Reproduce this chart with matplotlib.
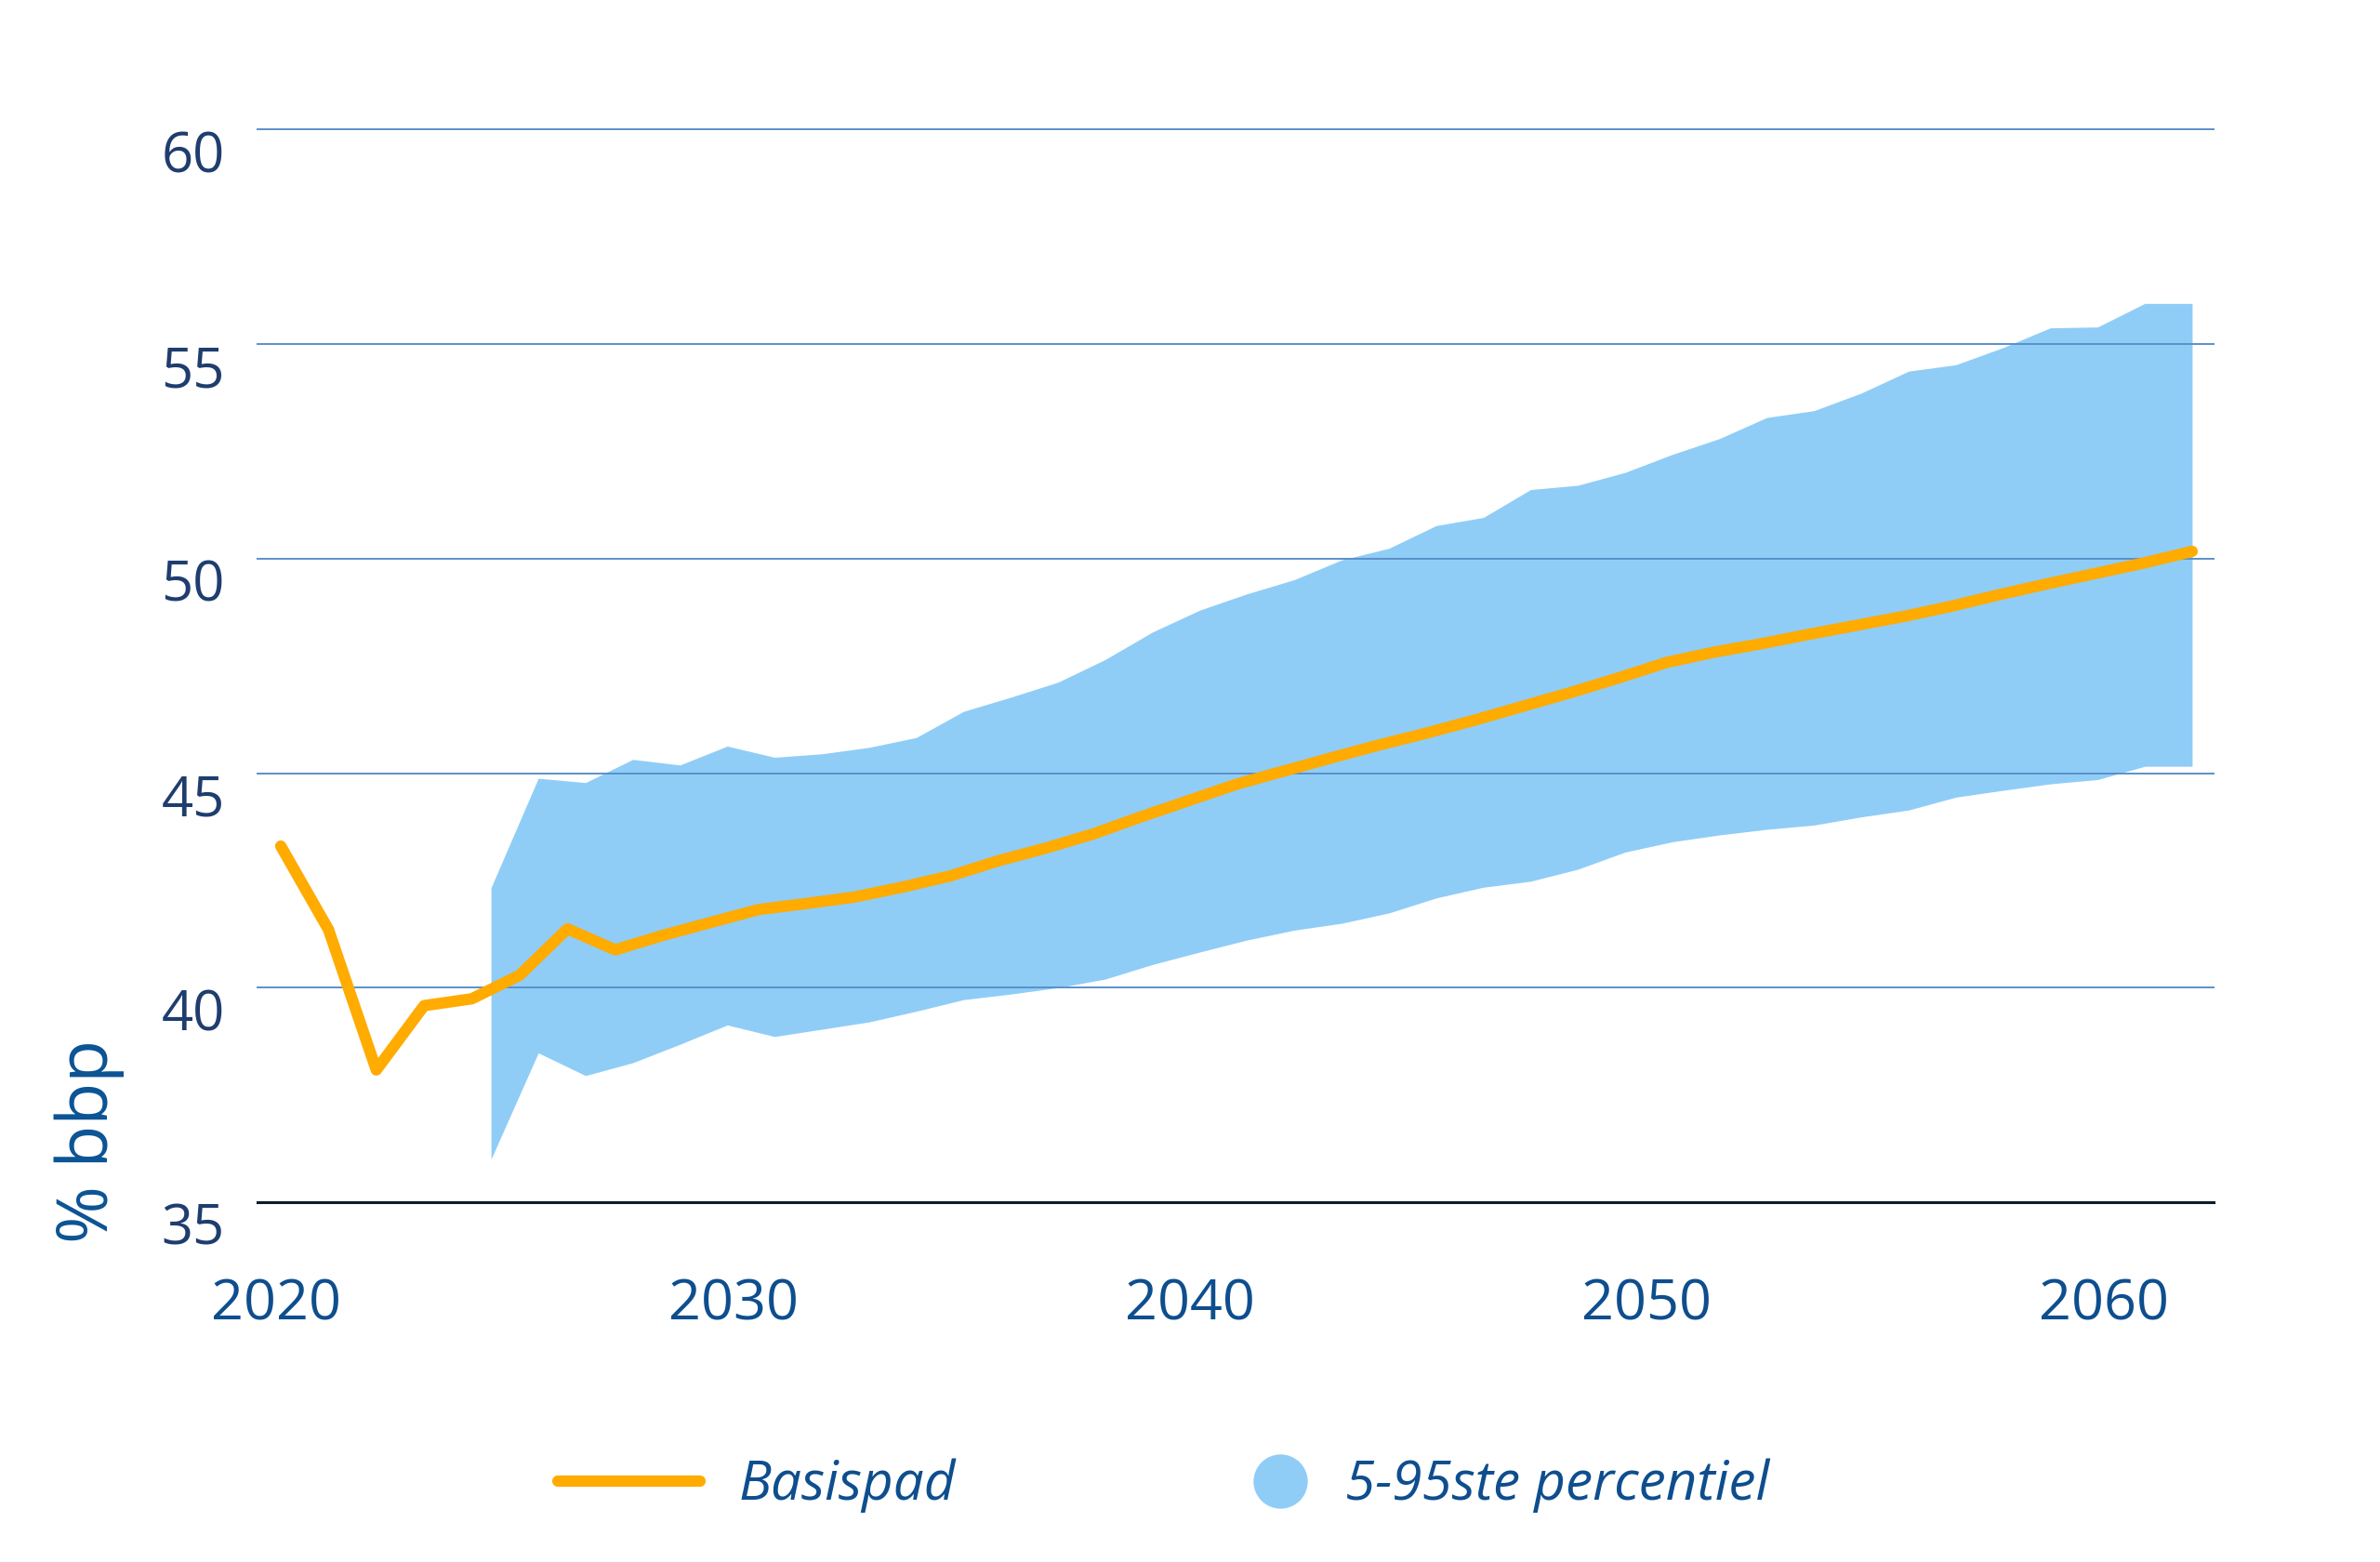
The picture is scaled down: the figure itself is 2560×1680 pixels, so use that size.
import numpy as np
import matplotlib.pyplot as plt
from matplotlib.lines import Line2D

plt.rcParams['font.family'] = ['Open Sans', 'DejaVu Sans']

# ---- data ----
years = np.arange(2020, 2061)
basispad = [43.30, 41.35, 38.08, 39.58, 39.74, 40.29, 41.37, 40.88, 41.22, 41.52,
            41.82, 41.96, 42.11, 42.34, 42.60, 42.95, 43.25, 43.58, 43.98, 44.36,
            44.74, 45.05, 45.36, 45.66, 45.94, 46.24, 46.56, 46.88, 47.22, 47.58,
            47.82, 48.02, 48.24, 48.45, 48.66, 48.90, 49.17, 49.42, 49.66, 49.90,
            50.17]

# 5-95 percentile band (runs on its own, slightly shifted grid in the source)
band_years = np.linspace(2024.4, 2060, 37)
band_hi = [42.33, 44.88, 44.78, 45.32, 45.19, 45.63, 45.37, 45.45, 45.60, 45.83,
           46.44, 46.77, 47.12, 47.65, 48.29, 48.80, 49.18, 49.51, 49.97, 50.24,
           50.77, 50.96, 51.61, 51.71, 52.01, 52.43, 52.80, 53.29, 53.45, 53.86,
           54.37, 54.52, 54.92, 55.38, 55.40, 55.95, 55.95]
band_lo = [36.00, 38.48, 37.95, 38.25, 38.68, 39.13, 38.86, 39.03, 39.20, 39.45,
           39.72, 39.85, 40.00, 40.20, 40.54, 40.83, 41.11, 41.34, 41.50, 41.74,
           42.09, 42.34, 42.48, 42.76, 43.16, 43.40, 43.56, 43.69, 43.79, 43.98,
           44.14, 44.44, 44.60, 44.75, 44.85, 45.16, 45.16]

y_ticks = [35, 40, 45, 50, 55, 60]
x_labels = ['2020', '2030', '2040', '2050', '2060']
# label positions as they sit in the source picture
x_label_pos = np.linspace(2019.91, 2058.15, 5)

orange = '#FFAB00'
lightblue = '#8FCDF7'
textblue = '#0E4E8E'
navy = '#1F3D6E'

fig = plt.figure(figsize=(12.8, 8.4), dpi=200)
ax = fig.add_axes([0.1082, 0.2304, 0.8219, 0.6866])

ax.fill_between(band_years, band_lo, band_hi, color=lightblue, lw=0, zorder=1)
ax.plot(years, basispad, color=orange, lw=4.4, solid_capstyle='round',
        solid_joinstyle='round', zorder=4)

ax.set_xlim(2019.514, 2060.45)
ax.set_ylim(35, 60)

ax.set_yticks(y_ticks)
ax.grid(axis='y', color='#5A90C8', lw=0.7, zorder=2)
ax.set_axisbelow(False)
for gl in ax.get_ygridlines():
    gl.set_clip_on(False)
    gl.set_zorder(2)
ax.grid(axis='x', visible=False)

for side in ['top', 'left', 'right']:
    ax.spines[side].set_visible(False)
ax.spines['bottom'].set_color('#0D1B2A')
ax.spines['bottom'].set_linewidth(1.1)
ax.spines['bottom'].set_zorder(3)

ax.tick_params(axis='y', length=0, pad=12.6, labelsize=21.5, labelcolor=navy)
for lbl in ax.get_yticklabels():
    lbl.set_verticalalignment('top')

ax.set_xticks(x_label_pos, x_labels)
ax.tick_params(axis='x', length=0, pad=29, labelsize=22, labelcolor=textblue)

fig.text(96 / 2560, 1 - 1227 / 1680, '% bbp', rotation=90, ha='center',
         va='center', fontsize=27, color='#0B5394')

# legend: two separate pieces so the spacing follows the source
leg_font = {'style': 'italic', 'size': 21}
line_handle = Line2D([], [], color=orange, lw=4.4, solid_capstyle='round')
dot_handle = Line2D([], [], ls='none', marker='o', ms=21, mfc=lightblue, mec='none')

fig.legend([line_handle], ['Basispad'], loc='center left',
           bbox_to_anchor=(600 / 2560, 0.049), frameon=False, prop=leg_font,
           labelcolor=textblue, handlelength=2.62, handletextpad=0.72,
           borderpad=0, borderaxespad=0)
fig.legend([dot_handle], ['5-95ste percentiel'], loc='center left',
           bbox_to_anchor=(1342 / 2560, 0.049), frameon=False, prop=leg_font,
           labelcolor=textblue, handlelength=1.2, handletextpad=0.6,
           borderpad=0, borderaxespad=0)

fig.savefig('out.png', dpi=200, facecolor='white')
